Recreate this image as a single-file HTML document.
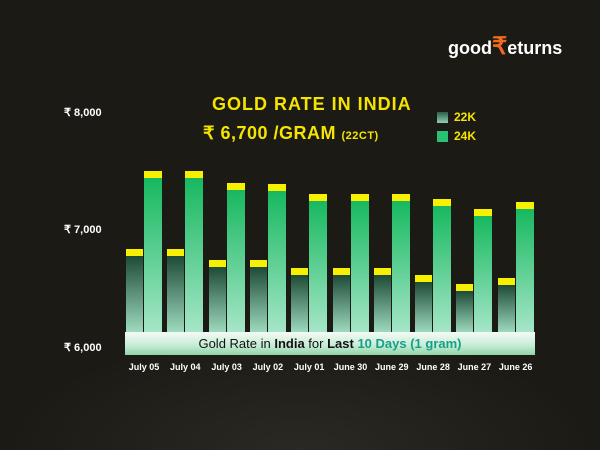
<!DOCTYPE html>
<html><head><meta charset="utf-8"><style>
body{margin:0;width:600px;height:450px;background:#1c1a14;overflow:hidden;font-family:"Liberation Sans",sans-serif;position:relative}
.a{position:absolute}
.b22{position:absolute;width:17px;background:linear-gradient(#1e4a36,#9fdcc0);border-top:7px solid #f7f000;box-sizing:border-box}
.b24{position:absolute;width:18px;background:linear-gradient(#17b85f,#a6e6c8);border-top:7px solid #f7f000;box-sizing:border-box}
.lab{position:absolute;top:362px;width:42px;text-align:center;color:#fff;font-size:9px;font-weight:bold}
.y{position:absolute;left:64px;color:#fff;font-size:11px;font-weight:bold}
</style></head><body>
<div class="a" style="left:0;top:330px;width:600px;height:120px;background:radial-gradient(ellipse at 50% 100%,#2a2924,#1c1a14 70%)"></div>
<div class="a" style="left:448px;top:32px;color:#fff;font-size:18px;font-weight:bold">good<span style="color:#f26a1b;font-size:24px">₹</span>eturns</div>
<div class="a" style="left:212px;top:94px;color:#f5e400;font-size:18px;font-weight:bold;letter-spacing:1px">GOLD RATE IN INDIA</div>
<div class="a" style="left:203px;top:123px;color:#f5e400;font-size:18px;font-weight:bold;letter-spacing:0.5px">₹ 6,700 /GRAM <span style="font-size:11px">(22CT)</span></div>
<div class="a" style="left:437px;top:112px;width:11px;height:11px;background:linear-gradient(#2c5f48,#8fcfb2)"></div>
<div class="a" style="left:454px;top:110px;color:#f5e400;font-size:12px;font-weight:bold">22K</div>
<div class="a" style="left:437px;top:131px;width:11px;height:11px;background:#28c272"></div>
<div class="a" style="left:454px;top:129px;color:#f5e400;font-size:12px;font-weight:bold">24K</div>
<div class="y" style="top:106px">₹ 8,000</div>
<div class="y" style="top:223px">₹ 7,000</div>
<div class="y" style="top:341px">₹ 6,000</div>
<div id="bars"></div>
<div class="a" style="left:125px;top:332px;width:410px;height:23px;background:linear-gradient(#f4fbf6,#c5ebd4 60%,#8fd4a8);color:#111;font-size:13px;line-height:23px;text-align:center">Gold Rate in <b>India</b> for <b>Last</b> <b style="color:#16a088">10 Days (1 gram)</b></div>
<script>
var t22=[249,249,260,260,268,268,268,275,284,278],t24=[171,171,183,184,194,194,194,199,209,202],
l=["July 05","July 04","July 03","July 02","July 01","June 30","June 29","June 28","June 27","June 26"],h="";
for(var i=0;i<10;i++){var x=126+i*41.3;
h+='<div class="b22" style="left:'+x+'px;top:'+t22[i]+'px;height:'+(333-t22[i])+'px"></div>';
h+='<div class="b24" style="left:'+(x+18)+'px;top:'+t24[i]+'px;height:'+(333-t24[i])+'px"></div>';
h+='<div class="lab" style="left:'+(x-3)+'px">'+l[i]+'</div>';}
document.getElementById("bars").innerHTML=h;
</script>
</body></html>
